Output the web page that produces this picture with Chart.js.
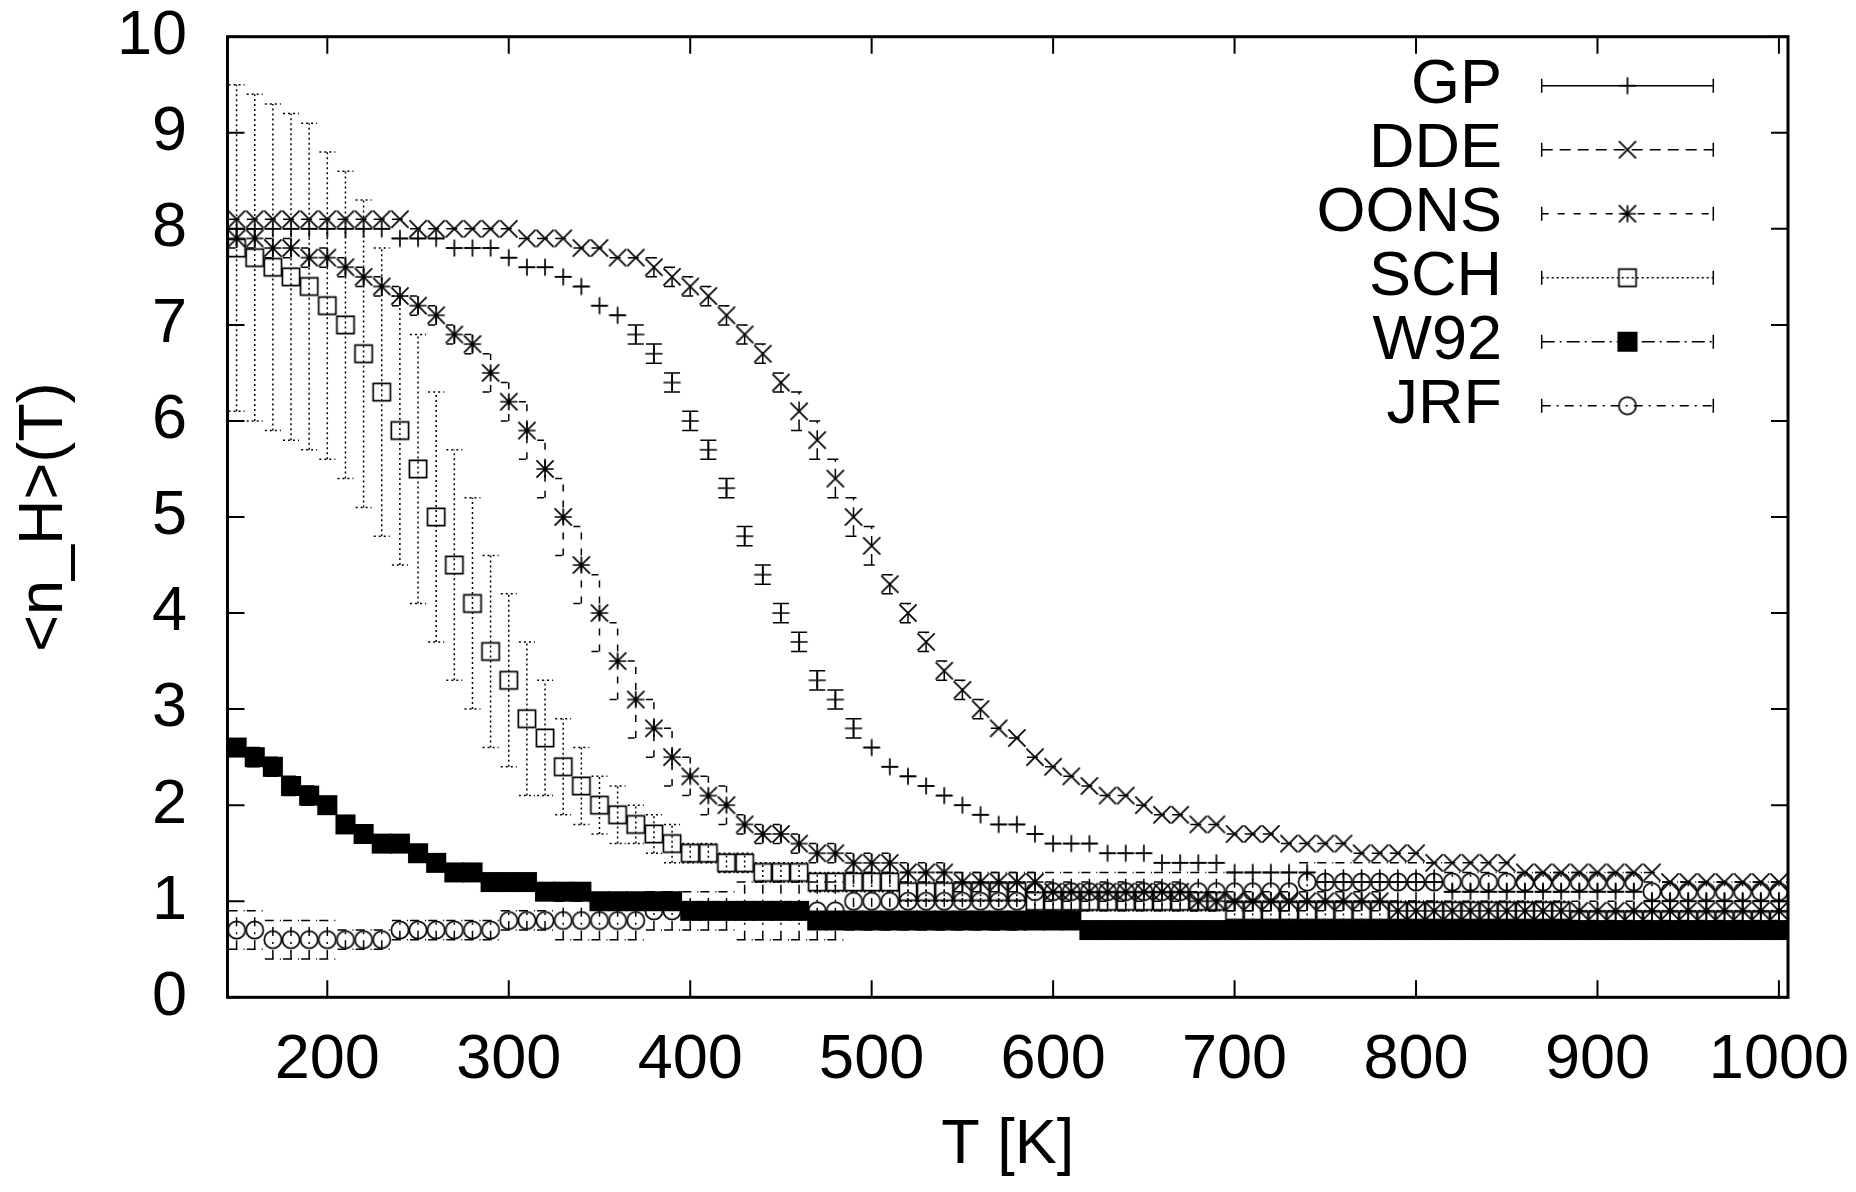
<!DOCTYPE html>
<html>
<head>
<meta charset="utf-8">
<script src="https://cdn.jsdelivr.net/npm/chart.js@4/dist/chart.umd.min.js"></script>
<style>
html,body{margin:0;padding:0;background:#fff;}
canvas{display:block;}
</style>
</head>
<body>
<canvas id="c" width="1856" height="1192" style="width:1856px;height:1192px"></canvas>
<script>
// ---------------- data ----------------
const temps = [150,160,170,180,190,200,210,220,230,240,250,260,270,280,290,300,310,320,330,340,
  350,360,370,380,390,400,410,420,430,440,450,460,470,480,490,500,510,520,530,540,
  550,560,570,580,590,600,610,620,630,640,650,660,670,680,690,700,710,720,730,740,
  750,760,770,780,790,800,810,820,830,840,850,860,870,880,890,900,910,920,930,940,
  950,960,970,980,990,1000];

const seriesLabels = ['GP','DDE','OONS','SCH','W92','JRF'];

const gpValues = [8.0,8.0,8.0,8.0,8.0,8.0,8.0,8.0,8.0,7.9,7.9,7.9,7.8,7.8,7.8,7.7,7.6,7.6,7.5,7.4,
  7.2,7.1,6.9,6.7,6.4,6.0,5.7,5.3,4.8,4.4,4.0,3.7,3.3,3.1,2.8,2.6,2.4,2.3,2.2,2.1,
  2.0,1.9,1.8,1.8,1.7,1.6,1.6,1.6,1.5,1.5,1.5,1.4,1.4,1.4,1.4,1.3,1.3,1.3,1.3,1.3,
  1.2,1.2,1.2,1.2,1.2,1.2,1.2,1.1,1.1,1.1,1.1,1.1,1.1,1.1,1.1,1.1,1.1,1.1,1.0,1.0,
  1.0,1.0,1.0,1.0,1.0,1.0];
const gpErrors = [0,0,0,0,0,0,0,0,0,0,0,0,0,0,0,0,0,0,0,0,
  0,0,0.1,0.1,0.1,0.1,0.1,0.1,0.1,0.1,0.1,0.1,0.1,0.1,0.1,0,0,0,0,0,
  0,0,0,0,0,0,0,0,0,0,0,0,0,0,0,0,0,0,0,0,
  0,0,0,0,0,0,0,0,0,0,0,0,0,0,0,0,0,0,0,0,
  0,0,0,0,0,0];

const ddeValues = [8.1,8.1,8.1,8.1,8.1,8.1,8.1,8.1,8.1,8.1,8.0,8.0,8.0,8.0,8.0,8.0,7.9,7.9,7.9,7.8,
  7.8,7.7,7.7,7.6,7.5,7.4,7.3,7.1,6.9,6.7,6.4,6.1,5.8,5.4,5.0,4.7,4.3,4.0,3.7,3.4,
  3.2,3.0,2.8,2.7,2.5,2.4,2.3,2.2,2.1,2.1,2.0,1.9,1.9,1.8,1.8,1.7,1.7,1.7,1.6,1.6,
  1.6,1.6,1.5,1.5,1.5,1.5,1.4,1.4,1.4,1.4,1.4,1.3,1.3,1.3,1.3,1.3,1.3,1.3,1.3,1.2,
  1.2,1.2,1.2,1.2,1.2,1.2];
const ddeErrors = [0,0,0,0,0,0,0,0,0,0,0,0,0,0,0,0,0,0,0,0,
  0,0,0,0.1,0.1,0.1,0.1,0.1,0.1,0.1,0.1,0.2,0.2,0.2,0.2,0.2,0.1,0.1,0.1,0.1,
  0.1,0.1,0,0,0,0,0,0,0,0,0,0,0,0,0,0,0,0,0,0,
  0,0,0,0,0,0,0,0,0,0,0,0,0,0,0,0,0,0,0,0,
  0,0,0,0,0,0];

const oonsValues = [7.9,7.9,7.8,7.8,7.7,7.7,7.6,7.5,7.4,7.3,7.2,7.1,6.9,6.8,6.5,6.2,5.9,5.5,5.0,4.5,
  4.0,3.5,3.1,2.8,2.5,2.3,2.1,2.0,1.8,1.7,1.7,1.6,1.5,1.5,1.4,1.4,1.4,1.3,1.3,1.3,
  1.2,1.2,1.2,1.2,1.2,1.1,1.1,1.1,1.1,1.1,1.1,1.1,1.1,1.0,1.0,1.0,1.0,1.0,1.0,1.0,
  1.0,1.0,1.0,1.0,0.9,0.9,0.9,0.9,0.9,0.9,0.9,0.9,0.9,0.9,0.9,0.9,0.9,0.9,0.9,0.9,
  0.9,0.9,0.9,0.9,0.9,0.9];
const oonsErrors = [0.1,0.1,0.1,0.1,0.1,0.1,0.1,0.1,0.1,0.1,0.1,0.1,0.1,0.1,0.2,0.2,0.3,0.3,0.4,0.4,
  0.4,0.4,0.4,0.3,0.3,0.2,0.2,0.2,0.1,0.1,0.1,0.1,0.1,0.1,0.1,0.1,0.1,0.1,0.1,0.1,
  0.1,0.1,0.1,0.1,0.1,0.1,0.1,0.1,0.1,0.1,0.1,0.1,0.1,0.1,0.1,0.1,0.1,0.1,0.1,0.1,
  0.1,0.1,0.1,0.1,0.1,0.1,0.1,0.1,0.1,0.1,0.1,0.1,0.1,0.1,0.1,0.1,0.1,0.1,0.1,0.1,
  0.1,0.1,0.1,0.1,0.1,0.1];

const schValues = [7.8,7.7,7.6,7.5,7.4,7.2,7.0,6.7,6.3,5.9,5.5,5.0,4.5,4.1,3.6,3.3,2.9,2.7,2.4,2.2,
  2.0,1.9,1.8,1.7,1.6,1.5,1.5,1.4,1.4,1.3,1.3,1.3,1.2,1.2,1.2,1.2,1.2,1.1,1.1,1.1,
  1.1,1.1,1.1,1.1,1.0,1.0,1.0,1.0,1.0,1.0,1.0,1.0,1.0,1.0,1.0,0.9,0.9,0.9,0.9,0.9,
  0.9,0.9,0.9,0.9,0.9,0.9,0.9,0.9,0.9,0.9,0.9,0.9,0.9,0.9,0.8,0.8,0.8,0.8,0.8,0.8,
  0.8,0.8,0.8,0.8,0.8,0.8];
const schErrors = [1.7,1.7,1.7,1.7,1.7,1.6,1.6,1.6,1.5,1.4,1.4,1.3,1.2,1.1,1.0,0.9,0.8,0.6,0.5,0.4,
  0.3,0.3,0.2,0.2,0.2,0.1,0.1,0.1,0.1,0.1,0.1,0.1,0.1,0.1,0.1,0.1,0.1,0.1,0.1,0.1,
  0.1,0.1,0.1,0.1,0.1,0.1,0.1,0.1,0.1,0.1,0.1,0.1,0.1,0.1,0.1,0.1,0.1,0.1,0.1,0.1,
  0.1,0.1,0.1,0.1,0.1,0.1,0.1,0.1,0.1,0.1,0.1,0.1,0.1,0.1,0.1,0.1,0.1,0.1,0.1,0.1,
  0.1,0.1,0.1,0.1,0.1,0.1];

const w92Values = [2.6,2.5,2.4,2.2,2.1,2.0,1.8,1.7,1.6,1.6,1.5,1.4,1.3,1.3,1.2,1.2,1.2,1.1,1.1,1.1,
  1.0,1.0,1.0,1.0,1.0,0.9,0.9,0.9,0.9,0.9,0.9,0.9,0.8,0.8,0.8,0.8,0.8,0.8,0.8,0.8,
  0.8,0.8,0.8,0.8,0.8,0.8,0.8,0.7,0.7,0.7,0.7,0.7,0.7,0.7,0.7,0.7,0.7,0.7,0.7,0.7,
  0.7,0.7,0.7,0.7,0.7,0.7,0.7,0.7,0.7,0.7,0.7,0.7,0.7,0.7,0.7,0.7,0.7,0.7,0.7,0.7,
  0.7,0.7,0.7,0.7,0.7,0.7];
const w92Errors = [0,0.1,0.1,0.1,0.1,0,0,0,0,0,0,0,0,0,0,0,0,0,0,0,
  0,0,0,0,0,0,0,0,0,0,0,0,0,0,0,0,0,0,0,0,
  0,0,0,0,0,0,0,0,0,0,0,0,0,0,0,0,0,0,0,0,
  0,0,0,0,0,0,0,0,0,0,0,0,0,0,0,0,0,0,0,0,
  0,0,0,0,0,0];

const jrfValues = [0.7,0.7,0.6,0.6,0.6,0.6,0.6,0.6,0.6,0.7,0.7,0.7,0.7,0.7,0.7,0.8,0.8,0.8,0.8,0.8,
  0.8,0.8,0.8,0.9,0.9,0.9,0.9,0.9,0.9,0.9,0.9,0.9,0.9,0.9,1.0,1.0,1.0,1.0,1.0,1.0,
  1.0,1.0,1.0,1.0,1.1,1.1,1.1,1.1,1.1,1.1,1.1,1.1,1.1,1.1,1.1,1.1,1.1,1.1,1.1,1.2,
  1.2,1.2,1.2,1.2,1.2,1.2,1.2,1.2,1.2,1.2,1.2,1.2,1.2,1.2,1.2,1.2,1.2,1.2,1.1,1.1,
  1.1,1.1,1.1,1.1,1.1,1.1];
const jrfErrors = [0.2,0.2,0.2,0.2,0.2,0.2,0.1,0.1,0.1,0.1,0.1,0.1,0.1,0.1,0.1,0.1,0.1,0.1,0.2,0.2,
  0.2,0.2,0.2,0.2,0.2,0.2,0.2,0.2,0.3,0.3,0.3,0.3,0.3,0.3,0.3,0.3,0.3,0.3,0.3,0.3,
  0.3,0.3,0.3,0.3,0.2,0.2,0.2,0.2,0.2,0.2,0.2,0.2,0.2,0.2,0.2,0.2,0.2,0.2,0.2,0.2,
  0.2,0.2,0.2,0.2,0.2,0.2,0.2,0.1,0.1,0.1,0.1,0.1,0.1,0.1,0.1,0.1,0.1,0.1,0.1,0.1,
  0.1,0.1,0.1,0.1,0.1,0.1];

const xTicks = [200,300,400,500,600,700,800,900,1000];
const yTicks = [0,1,2,3,4,5,6,7,8,9,10];

// ---------------- styles ----------------
const FONT = '"Liberation Sans", Arial, Helvetica, sans-serif';
const FS = 63;
const CAP = 8;

function makeMarker(kind) {
  const S = 26, c = document.createElement('canvas');
  c.width = S; c.height = S;
  const g = c.getContext('2d');
  const m = S / 2, h = 8.6;
  g.strokeStyle = '#000'; g.fillStyle = '#000'; g.lineWidth = 1.7;
  g.beginPath();
  if (kind === 'plus' || kind === 'star') { g.moveTo(m - h, m); g.lineTo(m + h, m); g.moveTo(m, m - h); g.lineTo(m, m + h); }
  if (kind === 'x' || kind === 'star') { g.moveTo(m - h, m - h); g.lineTo(m + h, m + h); g.moveTo(m - h, m + h); g.lineTo(m + h, m - h); }
  if (kind === 'box') { g.rect(m - h, m - h, 2 * h, 2 * h); }
  if (kind === 'circ') { g.arc(m, m, h, 0, Math.PI * 2); }
  if (kind === 'fbox') { g.rect(m - h - 0.6, m - h - 0.6, 2 * h + 1.2, 2 * h + 1.2); g.fill(); }
  g.stroke();
  return c;
}

const SERIES = [
  { label: seriesLabels[0], values: gpValues,   errors: gpErrors,   dash: [],            marker: makeMarker('plus') },
  { label: seriesLabels[1], values: ddeValues,  errors: ddeErrors,  dash: [11, 7],       marker: makeMarker('x') },
  { label: seriesLabels[2], values: oonsValues, errors: oonsErrors, dash: [7, 9],        marker: makeMarker('star') },
  { label: seriesLabels[3], values: schValues,  errors: schErrors,  dash: [2, 3],        marker: makeMarker('box') },
  { label: seriesLabels[4], values: w92Values,  errors: w92Errors,  dash: [13, 5, 2, 5], marker: makeMarker('fbox') },
  { label: seriesLabels[5], values: jrfValues,  errors: jrfErrors,  dash: [9, 6, 2, 6],  marker: makeMarker('circ') }
];

const datasets = SERIES.map((s, k) => ({
  label: s.label,
  data: temps.map((t, i) => ({ x: t, y: s.values[i] })),
  showLine: false,
  pointStyle: s.marker,
  pointRadius: 9,
  pointHoverRadius: 9,
  borderColor: '#000',
  backgroundColor: '#000',
  order: SERIES.length - k
}));

// ---------------- plugins ----------------
const errorBars = {
  id: 'errorBars',
  beforeDatasetsDraw(chart) {
    const { ctx, chartArea: a, scales: { x, y } } = chart;
    ctx.save();
    ctx.beginPath();
    ctx.rect(a.left, a.top, a.right - a.left, a.bottom - a.top);
    ctx.clip();
    ctx.strokeStyle = '#000';
    ctx.lineWidth = 1.5;
    SERIES.forEach(s => {
      ctx.setLineDash(s.dash);
      temps.forEach((t, i) => {
        const v = s.values[i], e = s.errors[i];
        const px = x.getPixelForValue(t);
        const lo = y.getPixelForValue(v - e), hi = y.getPixelForValue(v + e);
        ctx.beginPath();
        if (e > 0) {
          ctx.moveTo(px, lo); ctx.lineTo(px, hi);
          ctx.moveTo(px - CAP, lo); ctx.lineTo(px + CAP, lo);
        }
        ctx.moveTo(px - CAP, hi); ctx.lineTo(px + CAP, hi);
        ctx.stroke();
      });
    });
    ctx.restore();
  }
};

const frame = {
  id: 'frame',
  afterDatasetsDraw(chart) {
    const { ctx, chartArea: a, scales: { x, y } } = chart;
    ctx.save();
    ctx.setLineDash([]);
    ctx.strokeStyle = '#000';
    ctx.lineWidth = 2;
    const TL = 17;
    ctx.beginPath();
    x.ticks.forEach(t => {
      const px = x.getPixelForValue(t.value);
      ctx.moveTo(px, a.bottom); ctx.lineTo(px, a.bottom - TL);
      ctx.moveTo(px, a.top); ctx.lineTo(px, a.top + TL);
    });
    y.ticks.forEach(t => {
      const py = y.getPixelForValue(t.value);
      ctx.moveTo(a.left, py); ctx.lineTo(a.left + TL, py);
      ctx.moveTo(a.right, py); ctx.lineTo(a.right - TL, py);
    });
    ctx.stroke();
    ctx.lineWidth = 3;
    ctx.strokeRect(a.left, a.top, a.right - a.left, a.bottom - a.top);
    ctx.restore();
  }
};

const LEG = { textRight: 1502, x0: 1541.7, x1: 1713.3, top: 85.7, step: 64 };
const keyBox = {
  id: 'keyBox',
  afterDraw(chart) {
    const ctx = chart.ctx;
    ctx.save();
    ctx.font = FS + 'px ' + FONT;
    ctx.fillStyle = '#000';
    ctx.textAlign = 'right';
    ctx.textBaseline = 'middle';
    SERIES.forEach((s, k) => {
      const yy = LEG.top + k * LEG.step;
      ctx.fillText(s.label, LEG.textRight, yy);
      ctx.strokeStyle = '#000';
      ctx.lineWidth = 1.5;
      ctx.setLineDash(s.dash);
      ctx.beginPath();
      ctx.moveTo(LEG.x0, yy); ctx.lineTo(LEG.x1, yy);
      ctx.stroke();
      ctx.setLineDash([]);
      ctx.beginPath();
      ctx.moveTo(LEG.x0, yy - 7); ctx.lineTo(LEG.x0, yy + 7);
      ctx.moveTo(LEG.x1, yy - 7); ctx.lineTo(LEG.x1, yy + 7);
      ctx.stroke();
      const m = s.marker;
      ctx.drawImage(m, (LEG.x0 + LEG.x1) / 2 - m.width / 2, yy - m.height / 2);
    });
    ctx.restore();
  }
};

function noEdgePadding(s) {
  s.paddingTop = 0; s.paddingBottom = 0; s.paddingLeft = 0; s.paddingRight = 0;
}

// ---------------- chart ----------------
new Chart(document.getElementById('c'), {
  type: 'scatter',
  data: { datasets },
  options: {
    responsive: false,
    animation: false,
    devicePixelRatio: 1,
    events: [],
    layout: { padding: { left: 0, right: 68, top: 36.7, bottom: 0 } },
    plugins: { legend: { display: false }, tooltip: { enabled: false } },
    scales: {
      x: {
        type: 'linear',
        min: 145, max: 1005,
        afterBuildTicks: s => { s.ticks = xTicks.map(v => ({ value: v })); },
        afterFit: s => { s.height = 194.7; noEdgePadding(s); },
        grid: { display: false, drawTicks: false },
        border: { display: false },
        ticks: { padding: 26, color: '#000', maxRotation: 0, autoSkip: false,
                 font: { family: FONT, size: FS }, callback: v => String(v) },
        title: { display: true, text: 'T [K]', color: '#000',
                 font: { family: FONT, size: FS }, padding: { top: 0, bottom: 8.7 } }
      },
      y: {
        type: 'linear',
        min: 0, max: 10,
        afterBuildTicks: s => { s.ticks = yTicks.map(v => ({ value: v })); },
        afterFit: s => { s.width = 227.5; noEdgePadding(s); },
        grid: { display: false, drawTicks: false },
        border: { display: false },
        ticks: { padding: 40.5, color: '#000', autoSkip: false,
                 font: { family: FONT, size: FS, lineHeight: 1 }, callback: v => String(v) },
        title: { display: true, text: '<n_H>(T)', color: '#000',
                 font: { family: FONT, size: FS }, padding: { top: 6.7, bottom: 0 } }
      }
    }
  },
  plugins: [errorBars, frame, keyBox]
});
</script>
</body>
</html>
